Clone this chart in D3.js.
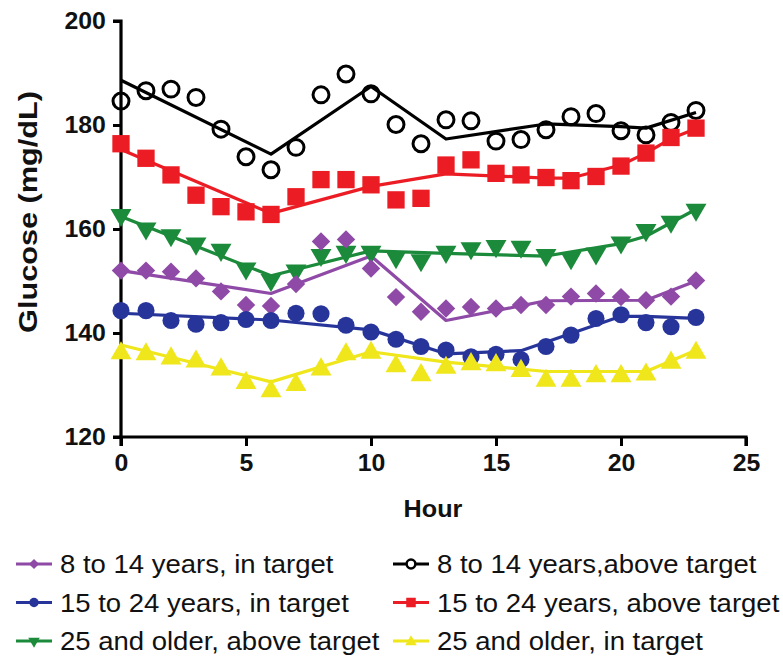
<!DOCTYPE html>
<html>
<head>
<meta charset="utf-8">
<script src="https://cdn.jsdelivr.net/npm/d3@7"></script>
<style>
  body { margin: 0; background: #fff; }
  text { font-family: "Liberation Sans", Arial, sans-serif; }
</style>
</head>
<body>
<div id="chart"></div>
<script>
var hours = [0,1,2,3,4,5,6,7,8,9,10,11,12,13,14,15,16,17,18,19,20,21,22,23];

var kids8In = [152,152,151.8,150.5,148,145.4,145.2,149.4,157.6,158,152.4,146.9,144.1,144.7,145,144.7,145.4,145.4,147,147.6,146.9,146.3,147,150.1];
var kids8Above = [184.6,186.6,186.9,185.3,179.2,173.9,171.4,175.7,185.8,189.8,186,180.1,176.4,181,180.8,176.9,177.2,179.1,181.6,182.2,178.9,178.1,180.5,182.8];
var young15In = [144.3,144.3,142.4,141.7,142,142.6,142.4,143.8,143.7,141.5,140.2,138.8,137.4,136.7,135.4,135.9,134.9,137.4,139.6,142.8,143.5,142,141.2,143];
var young15Above = [176.4,173.6,170.4,166.5,164.3,163.3,162.8,166.2,169.5,169.5,168.5,165.6,165.9,172.3,173.3,170.7,170.4,169.9,169.3,170.1,172.1,174.6,177.6,179.4];
var adult25Above = [162.7,160.1,158.8,157.2,156,152.4,150.2,152,155,155.6,155.6,154.6,154,155.6,156.3,156.7,156.6,155,154.4,155.3,157.4,159.8,161.4,163.7];
var adult25In = [136.3,136.1,135.3,134.7,133.2,130.6,129,130.2,133.2,136.1,136.4,133.8,132.1,133.5,134.2,134,132.9,131,131,131.9,131.9,132.2,134.5,136.4];

// fitted lines, read at their bends
var fitKids8In = {h: [0,6,10,13,17,21,23], v: [152,147.6,154.8,142.4,146.2,146.3,150]};
var fitKids8Above = {h: [0,6,10,13,17,20,21,23], v: [188.6,174.4,187.4,177.3,180.2,179.7,179.4,182.4]};
var fitYoung15In = {h: [0,6,10,13,16,20,21,23], v: [143.8,142.5,140.6,136,136.6,143.2,143.2,142.8]};
var fitYoung15Above = {h: [0,6,10,13,17,18,20,21,22,23], v: [175.3,163,168.2,170.6,169.8,169.8,172.3,174.6,177.4,179.3]};
var fitAdult25Above = {h: [0,6,10,13,17,20,21,23], v: [162.4,151,155.8,155.3,154.8,157.2,158.6,163.8]};
var fitAdult25In = {h: [0,6,10,13,17,21,23], v: [137.7,130.6,136.4,134.4,132.6,132.6,136.7]};

var xTicks = [0,5,10,15,20,25];
var yTicks = [120,140,160,180,200];

var series = [
  {name: "8 to 14 years,above target", values: kids8Above, fit: fitKids8Above, color: "#000000", shape: "ocircle"},
  {name: "15 to 24 years, above target", values: young15Above, fit: fitYoung15Above, color: "#ec1c24", shape: "square"},
  {name: "25 and older, above target", values: adult25Above, fit: fitAdult25Above, color: "#1b8a3a", shape: "tridown"},
  {name: "8 to 14 years, in target", values: kids8In, fit: fitKids8In, color: "#8e4aa6", shape: "diamond"},
  {name: "15 to 24 years, in target", values: young15In, fit: fitYoung15In, color: "#27359b", shape: "circle"},
  {name: "25 and older, in target", values: adult25In, fit: fitAdult25In, color: "#efe71b", shape: "triup"}
];
var legendOrder = [
  "8 to 14 years, in target", "8 to 14 years,above target",
  "15 to 24 years, in target", "15 to 24 years, above target",
  "25 and older, above target", "25 and older, in target"
];

var svg = d3.select("#chart").append("svg")
    .attr("width", 783)
    .attr("height", 662);

var x = d3.scaleLinear().domain([0, 25]).range([121, 746]);
var y = d3.scaleLinear().domain([120, 200]).range([437, 21]);

function symbolPath(shape, k) {
  k = k || 1;
  if (shape == "square") return d3.symbol(d3.symbolSquare, 300 * k * k)();
  if (shape == "diamond") return d3.symbol(d3.symbolSquare, 170 * k * k)();
  if (shape == "circle") return d3.symbol(d3.symbolCircle, 230 * k * k)();
  if (shape == "ocircle") return d3.symbol(d3.symbolCircle, 200 * k * k)();
  return d3.symbol(d3.symbolTriangle, 190 * k * k)();
}
function symbolRotate(shape) {
  if (shape == "diamond") return " rotate(45)";
  if (shape == "tridown") return " rotate(180)";
  if (shape == "triup") return " translate(0,1)";
  return "";
}

// axes
var yAxis = svg.append("g")
    .attr("transform", "translate(121,0)")
    .call(d3.axisLeft(y).tickValues(yTicks).tickSize(8).tickPadding(6));
var xAxis = svg.append("g")
    .attr("transform", "translate(0,437)")
    .call(d3.axisBottom(x).tickValues(xTicks).tickSize(9).tickPadding(9));

[yAxis, xAxis].forEach(function(ax) {
  ax.select(".domain").attr("stroke", "#000").attr("stroke-width", 3.2);
  ax.selectAll(".tick line").attr("stroke", "#000").attr("stroke-width", 3);
  ax.selectAll(".tick text")
      .attr("fill", "#111")
      .attr("transform", "scale(1.08,1)")
      .style("font-size", "23px")
      .style("font-weight", "bold");
});
yAxis.select(".domain").attr("d", "M-8," + y(200) + "H0V" + y(120) + "H-8");
xAxis.select(".domain").attr("d", "M" + x(0) + ",9V0H" + x(25) + "V9");

// fitted lines
var line = d3.line()
    .x(function(d) { return x(d[0]); })
    .y(function(d) { return y(d[1]); });

series.forEach(function(s) {
  var pts = s.fit.h.map(function(h, i) { return [h, s.fit.v[i]]; });
  svg.append("path")
      .attr("d", line(pts))
      .attr("fill", "none")
      .attr("stroke", s.color)
      .attr("stroke-width", 3.2)
      .attr("stroke-linejoin", "round");
});

// markers
series.forEach(function(s) {
  svg.append("g").selectAll("path")
    .data(s.values)
    .enter().append("path")
      .attr("transform", function(d, i) { return "translate(" + x(hours[i]) + "," + y(d) + ")" + symbolRotate(s.shape); })
      .attr("d", symbolPath(s.shape))
      .attr("fill", s.shape == "ocircle" ? "none" : s.color)
      .attr("stroke", s.shape == "ocircle" ? s.color : "none")
      .attr("stroke-width", 3);
});

// axis titles
svg.append("text")
    .attr("transform", "translate(37,212) rotate(-90) scale(1.18,1)")
    .attr("text-anchor", "middle")
    .style("font-size", "26px")
    .style("font-weight", "bold")
    .attr("fill", "#111")
    .text("Glucose  (mg/dL)");

svg.append("text")
    .attr("transform", "translate(433,517) scale(1.05,1)")
    .attr("text-anchor", "middle")
    .style("font-size", "24px")
    .style("font-weight", "bold")
    .attr("fill", "#111")
    .text("Hour");

// legend
var legend = svg.append("g");
legendOrder.forEach(function(name, i) {
  var s = series.filter(function(d) { return d.name == name; })[0];
  var col = i % 2, row = Math.floor(i / 2);
  var lx = col == 0 ? 16 : 393, ly = 564 + row * 38.5;
  legend.append("line")
      .attr("x1", lx).attr("x2", lx + 36)
      .attr("y1", ly).attr("y2", ly)
      .attr("stroke", s.color)
      .attr("stroke-width", 3);
  legend.append("path")
      .attr("transform", "translate(" + (lx + 18) + "," + ly + ")" + symbolRotate(s.shape))
      .attr("d", symbolPath(s.shape, 0.55))
      .attr("fill", s.shape == "ocircle" ? "#fff" : s.color)
      .attr("stroke", s.shape == "ocircle" ? s.color : "none")
      .attr("stroke-width", 2.5);
  legend.append("text")
      .attr("transform", "translate(" + (lx + 44) + "," + (ly + 9) + ") scale(1.1,1)")
      .style("font-size", "25px")
      .attr("fill", "#111")
      .text(name);
});
</script>
</body>
</html>
